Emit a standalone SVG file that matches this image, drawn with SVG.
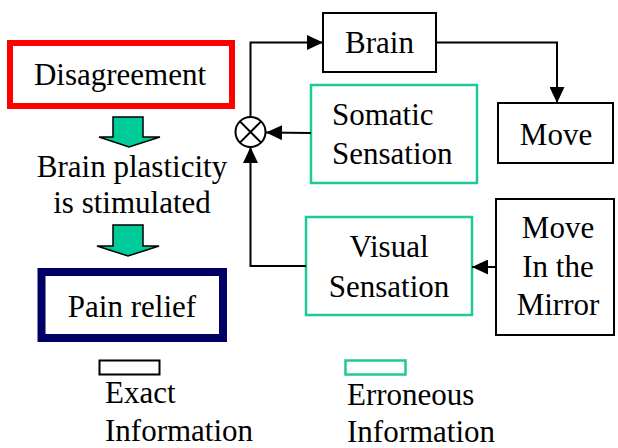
<svg xmlns="http://www.w3.org/2000/svg" width="618" height="448" viewBox="0 0 618 448">
<defs>
<marker id="ah" markerWidth="16" markerHeight="15" refX="16" refY="7.5" orient="auto" markerUnits="userSpaceOnUse">
<path d="M0,0 L16,7.5 L0,15 Z" fill="#000"/>
</marker>
<style>
text{font-family:"Liberation Serif","Times New Roman",serif;font-size:31px;fill:#000}
.c{text-anchor:middle}
.bk{fill:#fff;stroke:#000;stroke-width:2}
.er{fill:#fff;stroke:#1ec898;stroke-width:2.5}
.ln{fill:none;stroke:#000;stroke-width:2}
.ga{fill:#00cc99;stroke:#000;stroke-width:1.5;stroke-linejoin:miter}
</style>
</defs>
<rect width="618" height="448" fill="#fff"/>
<g id="disagreement">
<rect x="10" y="43" width="222" height="63" fill="#fff" stroke="#ff0000" stroke-width="6"/>
<text class="c" x="120" y="85">Disagreement</text>
</g>
<g id="arrow1"><polygon class="ga" points="113,117 143,117 143,137 160,137 129,147 99,137 113,137"/></g>
<g id="plasticity">
<text class="c" x="132" y="177">Brain plasticity</text>
<text class="c" x="132" y="213">is stimulated</text>
</g>
<g id="arrow2"><polygon class="ga" points="113,225 143,225 143,246 159,246 128,256 97,246 113,246"/></g>
<g id="painrelief">
<rect x="41.5" y="272" width="181.5" height="66" fill="#fff" stroke="#000066" stroke-width="8"/>
<text class="c" x="132" y="317">Pain relief</text>
</g>
<g id="junction">
<circle cx="250.5" cy="132" r="15" fill="#fff" stroke="#000" stroke-width="2"/>
<path d="M239.9,121.4 L261.1,142.6 M261.1,121.4 L239.9,142.6" stroke="#000" stroke-width="2"/>
</g>
<g id="brain">
<rect class="bk" x="323" y="13" width="113" height="59"/>
<text class="c" x="379.5" y="53">Brain</text>
</g>
<g id="move">
<rect class="bk" x="498" y="103" width="115" height="60"/>
<text class="c" x="556" y="145">Move</text>
</g>
<g id="somatic">
<rect class="er" x="311" y="85" width="166" height="98"/>
<text x="332" y="125">Somatic</text>
<text x="332" y="164">Sensation</text>
</g>
<g id="visual">
<rect class="er" x="306" y="217" width="166" height="98"/>
<text class="c" x="389" y="257">Visual</text>
<text class="c" x="389" y="297">Sensation</text>
</g>
<g id="mirror">
<rect class="bk" x="496" y="199" width="118" height="136"/>
<text class="c" x="558" y="238">Move</text>
<text class="c" x="558" y="277">In the</text>
<text class="c" x="558" y="315">Mirror</text>
</g>
<g id="connectors">
<path class="ln" d="M250.5,117 V42.5 H323" marker-end="url(#ah)"/>
<path class="ln" d="M436,42.5 H557 V103" marker-end="url(#ah)"/>
<path class="ln" d="M311,133 L266,132.5" marker-end="url(#ah)"/>
<path class="ln" d="M306,266 H250.5 V147" marker-end="url(#ah)"/>
<path class="ln" d="M496,267 H472" marker-end="url(#ah)"/>
</g>
<g id="legend">
<rect class="bk" x="99.5" y="360.5" width="60" height="14"/>
<text x="105" y="403">Exact</text>
<text x="105" y="441">Information</text>
<rect class="er" x="345.5" y="360.5" width="60" height="14"/>
<text x="347" y="405">Erroneous</text>
<text x="347" y="442">Information</text>
</g>
</svg>
